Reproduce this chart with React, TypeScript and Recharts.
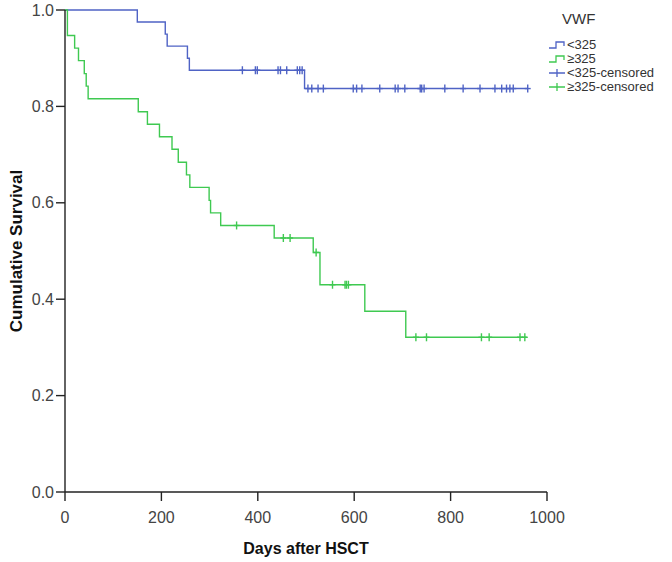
import React from 'react';
import { ComposedChart, Line, Scatter, XAxis, YAxis, Label } from 'recharts';

// Kaplan-Meier step points (days, cumulative survival)
const lowTimes = [0, 150, 208, 212, 254, 258, 497, 960];
const lowSurv = [1.0, 0.975, 0.95, 0.925, 0.9, 0.875, 0.837, 0.837];
const highTimes = [0, 5, 20, 28, 40, 44, 48, 152, 171, 196, 222, 235, 252, 259, 299, 302, 323, 434, 515, 529, 622, 707, 958];
const highSurv = [1.0, 0.947, 0.921, 0.895, 0.868, 0.842, 0.816, 0.789, 0.763, 0.737, 0.711, 0.684, 0.658, 0.632, 0.605, 0.579, 0.553, 0.527, 0.497, 0.43, 0.375, 0.321, 0.321];

// Censored observations (days)
const lowCensored = [368, 395, 399, 442, 447, 460, 482, 487, 492, 504, 512, 525, 536, 598, 605, 616, 653, 685, 691, 705, 737, 740, 745, 788, 826, 861, 892, 906, 916, 923, 930, 960];
const highCensored = [356, 453, 467, 521, 555, 581, 584, 588, 728, 750, 864, 880, 944, 954];

const xTicks = [0, 200, 400, 600, 800, 1000];
const yTicks = [0, 0.2, 0.4, 0.6, 0.8, 1.0];

const BLUE = '#4f63c5';
const GREEN = '#3fc951';
const FONT = '"Liberation Sans", Arial, sans-serif';

const toSeries = (ts: number[], ss: number[]) => ts.map((t, i) => ({ t, s: ss[i] }));
const survAt = (ts: number[], ss: number[], t: number) => {
  let v = ss[0];
  for (let i = 0; i < ts.length; i++) if (ts[i] <= t) v = ss[i];
  return v;
};
const censorSeries = (cs: number[], ts: number[], ss: number[]) => cs.map((t) => ({ t, s: survAt(ts, ss, t) }));

const lowData = toSeries(lowTimes, lowSurv);
const highData = toSeries(highTimes, highSurv);
const lowCens = censorSeries(lowCensored, lowTimes, lowSurv);
const highCens = censorSeries(highCensored, highTimes, highSurv);

const Cross = (color: string) => (props: any) => {
  const { cx, cy } = props;
  if (cx == null || cy == null) return <g />;
  return (
    <g>
      <line x1={cx} x2={cx} y1={cy - 4} y2={cy + 4} stroke={color} strokeWidth={1.4} />
      <line x1={cx - 3} x2={cx + 3} y1={cy} y2={cy} stroke={color} strokeWidth={1.4} />
    </g>
  );
};

const StepIcon = ({ color }: { color: string }) => (
  <svg width={18} height={10} style={{ marginRight: 1 }}>
    <path d="M1,8 H8 V2 H16 V6" fill="none" stroke={color} strokeWidth={1.3} />
  </svg>
);
const CrossIcon = ({ color }: { color: string }) => (
  <svg width={18} height={10} style={{ marginRight: 1 }}>
    <path d="M1,5 H17 M9,1 V9" fill="none" stroke={color} strokeWidth={1.3} />
  </svg>
);

const legendItems = [
  { label: '<325', color: BLUE, kind: 'step' },
  { label: '≥325', color: GREEN, kind: 'step' },
  { label: '<325-censored', color: BLUE, kind: 'cross' },
  { label: '≥325-censored', color: GREEN, kind: 'cross' },
];

export default function App() {
  return (
    <div style={{ position: 'absolute', left: 0, top: 0, width: 672, height: 562, background: '#fff' }}>
      <ComposedChart width={672} height={562} margin={{ top: 10, right: 125, bottom: 40, left: 0 }}>
        <XAxis
          type="number"
          dataKey="t"
          domain={[0, 1000]}
          ticks={xTicks}
          allowDataOverflow
          height={30}
          tickSize={9}
          tickLine={{ stroke: '#222', strokeWidth: 1.4 }}
          axisLine={{ stroke: '#222', strokeWidth: 1.4 }}
          tick={{ fill: '#444', fontSize: 16, fontFamily: FONT }}
          tickMargin={11}
        >
          <Label
            content={(p: any) => {
              const vb = p.viewBox;
              return (
                <text x={vb.x + vb.width / 2} y={550} textAnchor="middle" dominantBaseline="middle" fontFamily={FONT} fontWeight="bold" fontSize={16} fill="#111">
                  Days after HSCT
                </text>
              );
            }}
          />
        </XAxis>
        <YAxis
          type="number"
          dataKey="s"
          domain={[0, 1]}
          ticks={yTicks}
          width={65}
          tickSize={9}
          tickLine={{ stroke: '#222', strokeWidth: 1.4 }}
          axisLine={{ stroke: '#222', strokeWidth: 1.4 }}
          tick={{ fill: '#444', fontSize: 16, fontFamily: FONT }}
          tickMargin={2}
          tickFormatter={(v: number) => v.toFixed(1)}
        >
          <Label
            content={(p: any) => {
              const vb = p.viewBox;
              const cy = vb.y + vb.height / 2;
              return (
                <text x={18} y={cy} transform={`rotate(-90, 18, ${cy})`} textAnchor="middle" dominantBaseline="middle" fontFamily={FONT} fontWeight="bold" fontSize={17} fill="#111">
                  Cumulative Survival
                </text>
              );
            }}
          />
        </YAxis>
        <Line data={lowData} dataKey="s" type="stepAfter" stroke={BLUE} strokeWidth={1.4} dot={false} activeDot={false} isAnimationActive={false} />
        <Line data={highData} dataKey="s" type="stepAfter" stroke={GREEN} strokeWidth={1.4} dot={false} activeDot={false} isAnimationActive={false} />
        <Scatter data={lowCens} dataKey="s" shape={Cross(BLUE)} isAnimationActive={false} />
        <Scatter data={highCens} dataKey="s" shape={Cross(GREEN)} isAnimationActive={false} />
      </ComposedChart>
      <div style={{ position: 'absolute', left: 548, top: 10, fontFamily: FONT, color: '#333' }}>
        <div style={{ fontSize: 15, marginLeft: 14, marginBottom: 11, lineHeight: '17px' }}>VWF</div>
        {legendItems.map((it) => (
          <div key={it.label} style={{ display: 'flex', alignItems: 'center', fontSize: 13, lineHeight: '14px', height: 14 }}>
            {it.kind === 'step' ? <StepIcon color={it.color} /> : <CrossIcon color={it.color} />}
            <span>{it.label}</span>
          </div>
        ))}
      </div>
    </div>
  );
}
